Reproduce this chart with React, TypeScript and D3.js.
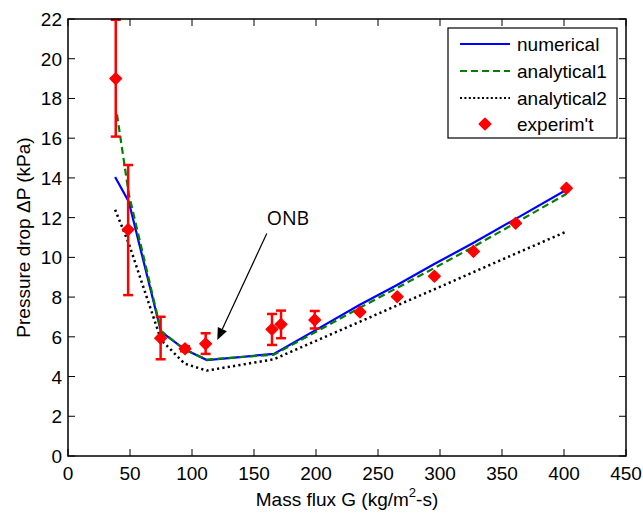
import React from "react";
import * as d3 from "d3";

const W = 643;
const H = 516;

const gLine = [38, 49, 75, 94, 112, 166, 200, 235, 265, 295, 326, 360, 402];
const numerical = [14.05, 12.8, 6.26, 5.37, 4.83, 5.14, 6.35, 7.6, 8.6, 9.65, 10.7, 11.9, 13.4];
const gAnalytical1 = [39.5, 49, 75, 94, 112, 166, 200, 235, 265, 295, 326, 360, 402];
const analytical1 = [17.2, 13.2, 6.3, 5.35, 4.85, 5.1, 6.25, 7.45, 8.45, 9.45, 10.5, 11.7, 13.2];
const analytical2 = [12.4, 10.7, 5.85, 4.65, 4.3, 4.87, 5.8, 6.75, 7.57, 8.38, 9.23, 10.16, 11.3];

const gExp = [38.5, 48.5, 74.7, 94.4, 111, 164.5, 171.8, 199, 235.5, 265.5, 295.5, 327, 361, 402];
const expVal = [19.0, 11.4, 5.93, 5.4, 5.65, 6.38, 6.63, 6.85, 7.25, 8.02, 9.05, 10.3, 11.72, 13.48];
const expLow = [16.08, 8.1, 4.87, 5.27, 5.14, 5.59, 5.93, 6.42, null, null, null, null, null, null];
const expHigh = [21.96, 14.65, 7.01, 5.53, 6.18, 7.15, 7.32, 7.3, null, null, null, null, null, null];

const xTicks = [0, 50, 100, 150, 200, 250, 300, 350, 400, 450];
const yTicks = [0, 2, 4, 6, 8, 10, 12, 14, 16, 18, 20, 22];

const legendLabels = ["numerical", "analytical1", "analytical2", "experim't"];

const annotationText = "ONB";
const arrowFrom = [160.3, 11.2];
const arrowTo = [120.4, 5.84];
const textPos = [177.4, 11.63];

const FONT = "'Liberation Sans', Arial, Helvetica, sans-serif";

const x = d3.scaleLinear().domain([0, 450]).range([68, 626]);
const y = d3.scaleLinear().domain([0, 22]).range([456, 19]);

const starPath = (cx: number, cy: number, r = 5.8, k = 2.9) =>
  `M${cx},${cy - r}L${cx + k},${cy - k}L${cx + r},${cy}L${cx + k},${cy + k}L${cx},${cy + r}L${cx - k},${cy + k}L${cx - r},${cy}L${cx - k},${cy - k}Z`;

export default function App() {
  const line = d3
    .line<[number, number]>()
    .x((d) => x(d[0]))
    .y((d) => y(d[1]));

  const numPts = gLine.map((g, i) => [g, numerical[i]] as [number, number]);
  const a1Pts = gAnalytical1.map((g, i) => [g, analytical1[i]] as [number, number]);
  const a2Pts = gLine.map((g, i) => [g, analytical2[i]] as [number, number]);

  const x0 = x(0), x1 = x(450), y0 = y(0), y1 = y(22);
  const tl = 7;

  const ax1 = x(arrowFrom[0]), ay1 = y(arrowFrom[1]);
  const ax2 = x(arrowTo[0]), ay2 = y(arrowTo[1]);
  const ang = Math.atan2(ay2 - ay1, ax2 - ax1);
  const hl = 12, hw = 5;
  const bx = ax2 - hl * Math.cos(ang), by = ay2 - hl * Math.sin(ang);
  const head = `M${ax2},${ay2}L${bx + hw * Math.sin(ang)},${by - hw * Math.cos(ang)}L${bx - hw * Math.sin(ang)},${by + hw * Math.cos(ang)}Z`;

  const legX = 448, legY = 28, legW = 169, legH = 110;
  const rowY = [44, 71, 98, 124];

  return (
    <svg
      width={W}
      height={H}
      style={{ position: "absolute", left: 0, top: 0, background: "#fff" }}
      fontFamily={FONT}
    >
      <rect x={0} y={0} width={W} height={H} fill="#fff" />

      <path d={line(a2Pts) || ""} fill="none" stroke="#000" strokeWidth={2.5} strokeDasharray="2.2,3.2" />
      <path d={line(numPts) || ""} fill="none" stroke="#0000ff" strokeWidth={2.2} />
      <path d={line(a1Pts) || ""} fill="none" stroke="#008000" strokeWidth={2.2} strokeDasharray="7,4" />

      {gExp.map((g, i) => {
        const lo = expLow[i], hi = expHigh[i];
        if (lo == null || hi == null) return null;
        const cx = x(g);
        return (
          <g key={"e" + i} stroke="#ff0000" strokeWidth={2.5}>
            <line x1={cx} x2={cx} y1={y(lo)} y2={y(hi)} />
            <line x1={cx - 5} x2={cx + 5} y1={y(lo)} y2={y(lo)} />
            <line x1={cx - 5} x2={cx + 5} y1={y(hi)} y2={y(hi)} />
          </g>
        );
      })}
      {gExp.map((g, i) => (
        <path key={"m" + i} d={starPath(x(g), y(expVal[i]))} fill="#ff0000" stroke="#ff0000" strokeWidth={1.4} strokeLinejoin="round" />
      ))}

      <line x1={ax1} y1={ay1} x2={bx} y2={by} stroke="#000" strokeWidth={1.2} />
      <path d={head} fill="#000" />
      <text x={x(textPos[0])} y={y(textPos[1])} fontSize={19.5} textAnchor="middle" fontFamily="'Open Sans', sans-serif">
        {annotationText}
      </text>

      <rect x={x0} y={y1} width={x1 - x0} height={y0 - y1} fill="none" stroke="#000" strokeWidth={1.5} />
      {xTicks.map((t) => (
        <g key={"xt" + t}>
          <line x1={x(t)} x2={x(t)} y1={y0} y2={y0 - tl} stroke="#000" strokeWidth={1} />
          <line x1={x(t)} x2={x(t)} y1={y1} y2={y1 + tl} stroke="#000" strokeWidth={1} />
          <text x={x(t)} y={480} fontSize={19} textAnchor="middle">
            {t}
          </text>
        </g>
      ))}
      {yTicks.map((t) => (
        <g key={"yt" + t}>
          <line x1={x0} x2={x0 + tl} y1={y(t)} y2={y(t)} stroke="#000" strokeWidth={1} />
          <line x1={x1} x2={x1 - tl} y1={y(t)} y2={y(t)} stroke="#000" strokeWidth={1} />
          <text x={62} y={y(t) + 7} fontSize={19} textAnchor="end">
            {t}
          </text>
        </g>
      ))}

      <text x={(x0 + x1) / 2} y={506} fontSize={19} textAnchor="middle">
        Mass flux G (kg/m
        <tspan dy={-9} fontSize={13}>2</tspan>
        <tspan dy={9}>-s)</tspan>
      </text>
      <text transform={`translate(30,${(y0 + y1) / 2}) rotate(-90)`} fontSize={19} textAnchor="middle">
        Pressure drop ΔP (kPa)
      </text>

      <rect x={legX} y={legY} width={legW} height={legH} fill="#fff" stroke="#000" strokeWidth={1.2} />
      <line x1={460} x2={510} y1={rowY[0]} y2={rowY[0]} stroke="#0000ff" strokeWidth={2.2} />
      <line x1={460} x2={510} y1={rowY[1]} y2={rowY[1]} stroke="#008000" strokeWidth={2.2} strokeDasharray="7,4" />
      <line x1={460} x2={510} y1={rowY[2]} y2={rowY[2]} stroke="#000" strokeWidth={2} strokeDasharray="2,2.4" />
      <path d={starPath(485, rowY[3])} fill="#ff0000" stroke="#ff0000" strokeWidth={1.4} strokeLinejoin="round" />
      {legendLabels.map((l, i) => (
        <text key={l} x={517} y={rowY[i] + 7} fontSize={19}>
          {l}
        </text>
      ))}
    </svg>
  );
}
